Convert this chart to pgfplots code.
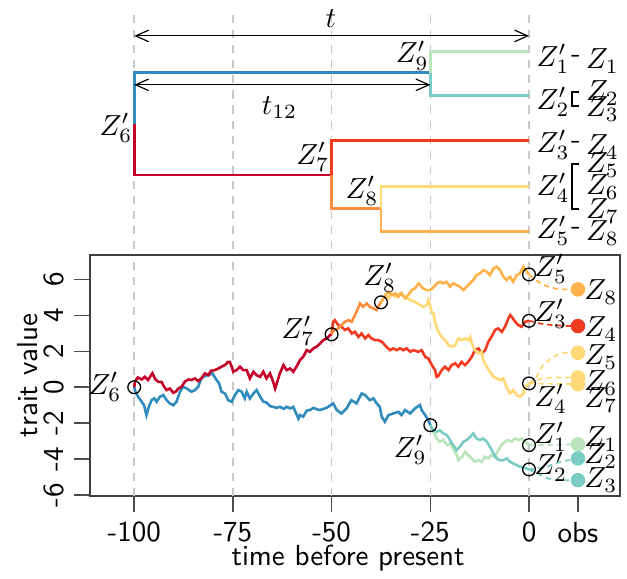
\documentclass[border=0pt]{standalone}
\usepackage{pgfplots}
\pgfplotsset{compat=1.18}
\usetikzlibrary{arrows.meta}
\definecolor{cRoot}{RGB}{196,0,42}
\definecolor{cBlue}{RGB}{49,140,189}
\definecolor{cGreen}{RGB}{186,228,188}
\definecolor{cTeal}{RGB}{123,204,196}
\definecolor{cRedO}{RGB}{240,59,32}
\definecolor{cOrange}{RGB}{253,141,60}
\definecolor{cYellow}{RGB}{254,217,118}
\definecolor{cGold}{RGB}{254,178,76}
\definecolor{gridgray}{RGB}{200,200,200}
\begin{document}
\begin{tikzpicture}[font=\fontsize{10}{12}\selectfont]
% ---------------- bottom: trait value axis ----------------
\begin{axis}[name=main, at={(0,0)}, anchor=south west, scale only axis,
  width=182.76pt, height=83.10pt,
  xmin=-111.2, xmax=23.05, ymin=-6.05, ymax=7.35,
  clip=false,
  axis line style={black!75, line width=0.5pt},
  xtick={-100,-75,-50,-25,0,12.4}, xticklabels={-100,-75,-50,-25,0,obs},
  ytick={-6,-4,-2,0,2,4,6}, yticklabels={-6,-4,-2,0,2,4,6},
  tick align=outside, xtick pos=bottom, ytick pos=left,
  major tick length=5.5pt,
  tick style={black!70, line width=0.5pt},
  xticklabel style={font=\sffamily},
  yticklabel style={font=\sffamily, rotate=90, anchor=south},
]
\foreach \xx in {-100,-75,-50,-25,0}{
  \edef\temp{\noexpand\draw[gridgray, line width=0.5pt, dash pattern=on 2.8pt off 2.4pt] (axis cs:\xx,-6.05) -- (axis cs:\xx,7.35);}
  \temp
}
% blue root branch
\addplot[cBlue, line width=0.9pt] coordinates {(-100,0) (-99.7,-0.25) (-99.0,-0.53) (-98.1,-0.81) (-97.5,-1.0) (-96.9,-1.55) (-96.3,-1.09) (-95.6,-0.72) (-94.9,-0.62) (-94.3,-0.81) (-93.5,-0.53) (-92.6,-0.44) (-91.8,-0.72) (-91.0,-0.90) (-90.1,-1.0) (-89.3,-0.81) (-88.4,-0.25) (-87.6,0.02) (-86.7,-0.07) (-85.5,-0.25) (-84.6,-0.16) (-83.8,0.02) (-83.0,0.49) (-82.1,0.62) (-81.2,0.67) (-80.2,0.77) (-79.4,0.49) (-78.5,0.21) (-77.9,-0.25) (-77.0,-0.35) (-76.2,-0.72) (-75.3,-0.81) (-74.5,-0.44) (-73.6,-0.16) (-72.8,-0.25) (-72.0,-0.62) (-71.5,-0.25) (-70.7,-0.63) (-69.8,-0.35) (-69.0,-0.16) (-68.1,-0.53) (-67.3,-0.8) (-66.5,-0.85) (-65.6,-1.05) (-64.8,-1.09) (-63.9,-1.15) (-63.1,-1.09) (-62.2,-1.2) (-61.4,-1.09) (-60.5,-1.18) (-59.7,-1.09) (-58.9,-1.5) (-58.4,-1.75) (-58.0,-1.55) (-57.2,-1.64) (-56.3,-1.3) (-55.5,-1.27) (-54.6,-1.15) (-53.8,-1.22) (-53.0,-1.27) (-51.3,-1.15) (-49.6,-0.90) (-48.7,-1.27) (-47.5,-1.46) (-46.2,-1.18) (-45.0,-0.72) (-43.7,-0.90) (-42.4,-0.35) (-41.5,-0.44) (-40.3,-0.72) (-39.4,-0.62) (-38.6,-0.90) (-37.8,-1.09) (-37.3,-1.64) (-36.5,-1.92) (-35.6,-1.55) (-34.4,-1.46) (-33.1,-1.37) (-32.3,-1.55) (-31.4,-1.27) (-30.1,-1.46) (-28.9,-1.18) (-27.6,-0.99) (-27.2,-1.27) (-26.3,-1.55) (-25.5,-1.83) (-25,-2.11)};
% red root branch
\addplot[cRoot, line width=0.9pt] coordinates {(-100,0) (-99.8,0.30) (-99.1,0.54) (-98.1,0.43) (-97.3,0.58) (-96.5,0.40) (-95.4,0.77) (-94.6,0.43) (-93.9,0.30) (-93.1,0.30) (-92.4,0.02) (-91.8,-0.16) (-91.0,-0.07) (-90.1,-0.31) (-89.5,-0.25) (-88.8,-0.07) (-88.0,0.02) (-87.2,0.30) (-86.3,0.43) (-85.5,0.40) (-84.6,0.49) (-83.8,0.34) (-83.0,0.49) (-82.1,0.77) (-81.2,0.67) (-80.6,0.91) (-79.6,0.95) (-78.7,1.04) (-77.9,1.14) (-77.0,1.23) (-76.2,1.41) (-75.8,1.41) (-75.3,1.14) (-74.9,0.86) (-74.1,0.95) (-73.2,1.14) (-72.4,0.95) (-71.5,0.95) (-70.7,0.49) (-69.8,0.86) (-69.0,0.67) (-68.1,0.58) (-67.3,0.86) (-66.5,0.49) (-65.6,0.77) (-64.8,0.30) (-64.3,-0.07) (-63.9,0.21) (-63.1,0.77) (-62.2,1.23) (-61.4,0.95) (-60.5,1.04) (-59.7,0.86) (-58.9,1.14) (-58.0,1.51) (-57.2,1.69) (-56.3,2.06) (-55.5,1.97) (-54.6,2.16) (-53.8,2.25) (-52.9,2.43) (-52.1,2.62) (-51.2,2.71) (-50.4,2.90) (-50,2.94)};
% Z3' branch
\addplot[cRedO, line width=0.9pt] coordinates {(-50,2.94) (-49.6,3.64) (-49.2,3.73) (-48.3,3.45) (-47.5,3.36) (-46.6,3.18) (-45.8,3.27) (-44.9,2.99) (-44.1,3.08) (-43.2,2.80) (-42.4,2.99) (-41.5,2.71) (-40.7,2.90) (-39.9,2.71) (-39.0,2.62) (-38.2,2.62) (-37.3,2.53) (-36.1,2.25) (-35.2,2.06) (-34.4,2.16) (-33.5,2.06) (-32.7,2.16) (-31.8,2.06) (-31.0,2.16) (-30.1,1.97) (-29.3,2.06) (-28.0,1.97) (-27.2,2.06) (-26.3,1.69) (-25.5,1.60) (-24.6,1.23) (-23.8,0.95) (-23.4,0.58) (-23.0,0.62) (-22.1,0.95) (-21.3,1.14) (-20.4,0.95) (-19.6,1.23) (-18.7,1.32) (-17.9,1.14) (-17.1,1.41) (-16.2,1.23) (-15.4,1.41) (-14.5,1.69) (-13.7,2.06) (-12.8,2.16) (-12.0,1.88) (-11.1,2.06) (-10.3,2.53) (-9.5,2.80) (-8.6,3.18) (-7.8,3.27) (-6.9,3.08) (-6.1,3.36) (-5.2,3.83) (-4.8,4.01) (-4.4,3.92) (-3.5,3.64) (-2.7,3.45) (-1.9,3.36) (-1.0,3.64) (0,3.69)};
% Z7'-Z8' branch
\addplot[cOrange, line width=0.9pt] coordinates {(-50,2.94) (-49.4,3.18) (-48.3,3.27) (-47.5,3.45) (-46.6,3.64) (-45.8,3.73) (-44.9,3.64) (-44.1,4.01) (-43.5,4.29) (-42.8,4.66) (-42.0,4.47) (-41.1,4.66) (-40.3,4.47) (-39.4,4.38) (-38.6,4.29) (-37.7,4.66) (-37.5,4.72)};
% Z4' branch
\addplot[cYellow, line width=0.9pt] coordinates {(-37.5,4.72) (-36.5,5.12) (-35.6,4.94) (-34.8,5.22) (-33.9,5.03) (-32.7,5.22) (-31.4,5.03) (-30.1,4.84) (-28.9,4.75) (-27.6,4.57) (-26.8,4.47) (-25.9,4.57) (-25.5,4.84) (-25.1,4.6) (-24.7,4.20) (-24.2,4.1) (-23.8,3.6) (-23.0,3.1) (-22.1,2.80) (-21.3,2.62) (-20.4,2.34) (-19.6,2.25) (-18.7,2.34) (-17.9,2.71) (-17.1,2.62) (-16.2,2.71) (-15.4,2.62) (-14.9,2.80) (-14.5,2.43) (-13.7,2.06) (-12.8,1.88) (-12.0,1.97) (-11.6,1.51) (-10.7,1.14) (-9.9,0.86) (-9.0,0.58) (-8.2,0.49) (-7.3,0.39) (-6.5,0.49) (-5.7,0.02) (-4.8,-0.35) (-4.0,-0.16) (-3.1,-0.44) (-2.3,-0.53) (-1.4,-0.35) (-1.0,0.02) (0,0.21)};
% Z5' branch
\addplot[cGold, line width=0.9pt] coordinates {(-37.5,4.72) (-36.5,5.03) (-35.6,5.31) (-34.8,5.12) (-33.9,5.22) (-33.1,5.03) (-32.3,5.22) (-31.4,4.94) (-30.6,5.12) (-29.7,5.40) (-28.9,5.49) (-28.0,5.77) (-26.8,5.49) (-25.9,5.40) (-25.1,5.40) (-24.2,5.55) (-23.4,5.77) (-22.5,5.86) (-21.7,5.77) (-20.9,5.86) (-20.0,5.59) (-19.2,5.77) (-18.3,5.68) (-17.5,5.59) (-16.6,5.40) (-15.8,5.59) (-15.0,5.77) (-14.1,5.96) (-13.3,6.23) (-12.4,6.33) (-11.6,6.51) (-10.7,6.42) (-9.9,6.23) (-9.0,6.60) (-8.2,6.70) (-7.3,6.51) (-6.5,6.14) (-5.7,5.96) (-4.8,6.14) (-4.0,5.86) (-3.1,6.23) (-2.3,6.33) (-1.4,6.70) (-0.8,6.51) (0,6.27)};
% Z1' branch
\addplot[cGreen, line width=0.9pt] coordinates {(-25,-2.11) (-24.2,-2.48) (-23.4,-2.85) (-22.6,-3.03) (-21.7,-2.94) (-20.8,-3.22) (-20.0,-3.13) (-19.2,-3.41) (-18.3,-3.78) (-17.9,-4.06) (-17.0,-3.87) (-16.2,-3.59) (-15.4,-3.78) (-14.5,-3.96) (-13.7,-4.15) (-12.8,-4.06) (-12.0,-4.15) (-11.2,-3.87) (-10.3,-3.96) (-9.5,-3.78) (-8.6,-3.87) (-7.8,-3.50) (-7.0,-3.22) (-6.1,-3.03) (-5.2,-2.94) (-4.4,-3.03) (-3.5,-2.85) (-2.7,-2.94) (-1.9,-2.85) (-1.0,-3.03) (0,-3.22)};
% Z2' branch
\addplot[cTeal, line width=0.9pt] coordinates {(-25,-2.11) (-24.2,-2.39) (-23.4,-2.48) (-22.6,-2.39) (-21.7,-2.57) (-20.8,-2.66) (-20.0,-2.94) (-19.2,-3.22) (-18.3,-3.50) (-17.5,-3.31) (-16.6,-3.03) (-15.8,-2.94) (-14.9,-2.76) (-14.1,-2.57) (-13.3,-2.85) (-12.4,-2.94) (-11.6,-2.85) (-10.7,-3.03) (-9.9,-3.31) (-9.0,-3.68) (-8.2,-3.96) (-7.3,-4.06) (-6.5,-4.06) (-5.6,-3.96) (-4.8,-4.15) (-4.0,-4.24) (-3.1,-4.33) (-2.3,-4.42) (-1.4,-4.46) (0,-4.57)};
% dashed links to observations
\addplot[cGold, line width=0.6pt, dash pattern=on 1.8pt off 1.4pt, smooth] coordinates {(0,6.27) (0.7,6.12) (3.2,5.75) (5.75,5.53) (8.7,5.44) (12.4,5.44)};
\addplot[cRedO, line width=0.6pt, dash pattern=on 1.8pt off 1.4pt, smooth] coordinates {(0,3.69) (1.1,3.64) (3.6,3.51) (7.0,3.44) (10.4,3.40) (12.4,3.40)};
\addplot[cYellow, line width=0.6pt, dash pattern=on 1.8pt off 1.4pt, smooth] coordinates {(0,0.21) (1.9,0.58) (3.6,1.23) (6.2,1.69) (8.7,1.91) (12.4,1.91)};
\addplot[cYellow, line width=0.6pt, dash pattern=on 1.8pt off 1.4pt, smooth] coordinates {(0,0.21) (3.6,0.49) (7.8,0.54) (12.4,0.54)};
\addplot[cYellow, line width=0.6pt, dash pattern=on 1.8pt off 1.4pt, smooth] coordinates {(0,0.21) (6,0.19) (12.4,0.17)};
\addplot[cGreen, line width=0.6pt, dash pattern=on 1.8pt off 1.4pt, smooth] coordinates {(0,-3.22) (6,-3.2) (12.4,-3.18)};
\addplot[cTeal, line width=0.6pt, dash pattern=on 1.8pt off 1.4pt, smooth] coordinates {(0,-4.57) (4,-4.45) (8,-4.15) (12.4,-3.96)};
\addplot[cTeal, line width=0.6pt, dash pattern=on 1.8pt off 1.4pt, smooth] coordinates {(0,-4.57) (2,-4.79) (5.3,-5.1) (8,-5.17) (12.4,-5.17)};
% observations
\addplot[only marks, mark=*, mark size=2.3pt, cGold] coordinates {(12.4,5.44)};
\addplot[only marks, mark=*, mark size=2.3pt, cRedO] coordinates {(12.4,3.40)};
\addplot[only marks, mark=*, mark size=2.3pt, cYellow] coordinates {(12.4,1.91) (12.4,0.54) (12.4,0.17)};
\addplot[only marks, mark=*, mark size=2.3pt, cGreen] coordinates {(12.4,-3.18)};
\addplot[only marks, mark=*, mark size=2.3pt, cTeal] coordinates {(12.4,-3.96) (12.4,-5.17)};
% ancestral nodes
\addplot[only marks, mark=o, mark size=2.2pt, black, line width=0.45pt] coordinates {(-100,0) (-50,2.94) (-37.5,4.72) (-25,-2.11) (0,6.27) (0,3.69) (0,0.21) (0,-3.22) (0,-4.57)};
% labels
\node[anchor=east, inner sep=0pt] at (axis cs:-103.1,0) {$Z'_6$};
\node[anchor=east, inner sep=0pt] at (axis cs:-54.2,3.12) {$Z'_7$};
\node[inner sep=0pt] at (axis cs:-37.8,6.07) {$Z'_8$};
\node[inner sep=0pt] at (axis cs:-30.1,-3.50) {$Z'_9$};
\node[inner sep=0pt] at (axis cs:5.5,6.57) {$Z'_5$};
\node[inner sep=0pt] at (axis cs:5.5,4.07) {$Z'_3$};
\node[inner sep=0pt] at (axis cs:5.5,-0.66) {$Z'_4$};
\node[inner sep=0pt] at (axis cs:5.5,-2.75) {$Z'_1$};
\node[inner sep=0pt] at (axis cs:5.5,-4.42) {$Z'_2$};
\node[inner sep=0pt] at (axis cs:18.2,5.29) {$Z_8$};
\node[inner sep=0pt] at (axis cs:18.2,3.23) {$Z_4$};
\node[inner sep=0pt] at (axis cs:18.2,1.67) {$Z_5$};
\node[inner sep=0pt] at (axis cs:18.2,0.23) {$Z_6$};
\node[inner sep=0pt] at (axis cs:18.2,-0.72) {$Z_7$};
\node[inner sep=0pt] at (axis cs:18.2,-2.89) {$Z_1$};
\node[inner sep=0pt] at (axis cs:18.2,-3.83) {$Z_2$};
\node[inner sep=0pt] at (axis cs:18.2,-5.17) {$Z_3$};
\end{axis}
\node[rotate=90, font=\sffamily] at (-21.4pt,41.55pt) {trait value};
\node[font=\sffamily] at (89pt,-21.5pt) {time before present};
% ---------------- top: tree ----------------
\begin{axis}[at={(0,83.10pt)}, anchor=south west, scale only axis,
  width=182.76pt, height=87.93pt,
  xmin=-111.2, xmax=23.05, ymin=0, ymax=255, y dir=reverse,
  hide axis, clip=false]
\foreach \xx in {-100,-75,-50,-25,0}{
  \edef\temp{\noexpand\draw[gridgray, line width=0.5pt, dash pattern=on 2.8pt off 2.4pt] (axis cs:\xx,15) -- (axis cs:\xx,255);}
  \temp
}
\addplot[cBlue, line width=1pt] coordinates {(-100,123.9) (-100,72.8) (-25,72.8)};
\addplot[cRoot, line width=1pt] coordinates {(-100,123.9) (-100,175) (-50,175)};
\addplot[cGreen, line width=1pt] coordinates {(-25,72.8) (-25,51.3) (0,51.3)};
\addplot[cTeal, line width=1pt] coordinates {(-25,72.8) (-25,95.7) (0,95.7)};
\addplot[cRedO, line width=1pt] coordinates {(-50,175) (-50,140.8) (0,140.8)};
\addplot[cOrange, line width=1pt] coordinates {(-50,175) (-50,208.5) (-37.5,208.5)};
\addplot[cYellow, line width=1pt] coordinates {(-37.5,208.5) (-37.5,186.3) (0,186.3)};
\addplot[cGold, line width=1pt] coordinates {(-37.5,208.5) (-37.5,231.7) (0,231.7)};
\draw[line width=0.4pt, {Straight Barb[length=4.5pt,width=4pt]}-{Straight Barb[length=4.5pt,width=4pt]}] (axis cs:-100,35.9) -- (axis cs:0,35.9);
\draw[line width=0.4pt, {Straight Barb[length=4.5pt,width=4pt]}-{Straight Barb[length=4.5pt,width=4pt]}] (axis cs:-100,84.8) -- (axis cs:-25,84.8);
\node at (axis cs:-50.2,19) {$t$};
\node at (axis cs:-63.2,107.7) {$t_{12}$};
\node[inner sep=0pt] at (axis cs:-29.6,55.5) {$Z'_9$};
\node[inner sep=0pt] at (axis cs:-104.6,128) {$Z'_6$};
\node[inner sep=0pt] at (axis cs:-54.8,157) {$Z'_7$};
\node[inner sep=0pt] at (axis cs:-42.3,191) {$Z'_8$};
% tip labels
\node[anchor=west, inner sep=0pt] at (axis cs:1.8,59) {$Z'_1$};
\node[anchor=west, inner sep=0pt] at (axis cs:1.8,102) {$Z'_2$};
\node[anchor=west, inner sep=0pt] at (axis cs:1.8,145) {$Z'_3$};
\node[anchor=west, inner sep=0pt] at (axis cs:1.8,188) {$Z'_4$};
\node[anchor=west, inner sep=0pt] at (axis cs:1.8,231) {$Z'_5$};
\node[inner sep=0pt] at (axis cs:11.9,59) {-};
\node[inner sep=0pt] at (axis cs:11.9,145) {-};
\node[inner sep=0pt] at (axis cs:11.9,231) {-};
\draw[line width=0.7pt] (axis cs:12.6,91.6) -- (axis cs:11.0,91.6) -- (axis cs:11.0,106) -- (axis cs:12.6,106);
\draw[line width=0.7pt] (axis cs:12.6,164) -- (axis cs:11.0,164) -- (axis cs:11.0,208.5) -- (axis cs:12.6,208.5);
\node[anchor=west, inner sep=0pt] at (axis cs:14.3,61) {$Z_1$};
\node[anchor=west, inner sep=0pt] at (axis cs:14.3,93) {$Z_2$};
\node[anchor=west, inner sep=0pt] at (axis cs:14.3,109) {$Z_3$};
\node[anchor=west, inner sep=0pt] at (axis cs:14.3,147) {$Z_4$};
\node[anchor=west, inner sep=0pt] at (axis cs:14.3,165) {$Z_5$};
\node[anchor=west, inner sep=0pt] at (axis cs:14.3,187) {$Z_6$};
\node[anchor=west, inner sep=0pt] at (axis cs:14.3,211) {$Z_7$};
\node[anchor=west, inner sep=0pt] at (axis cs:14.3,233) {$Z_8$};
\end{axis}
\pgfresetboundingbox
\path[use as bounding box] (-31.03pt,-28.28pt) rectangle (185.17pt,171.03pt);
\end{tikzpicture}
\end{document}
